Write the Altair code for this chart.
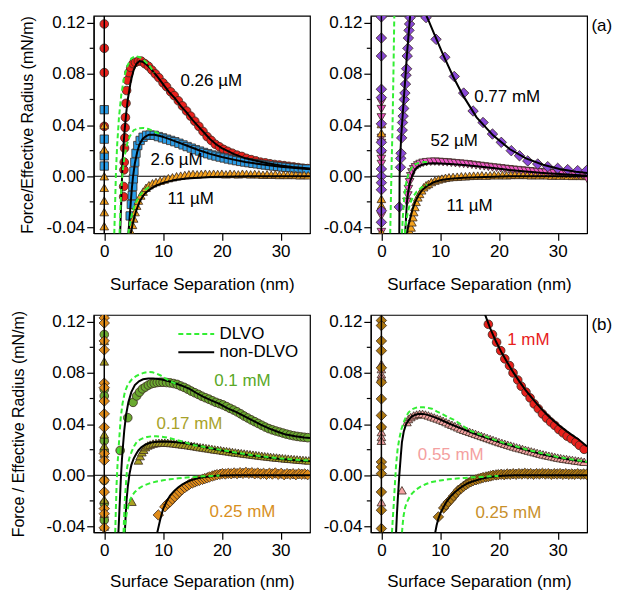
import altair as alt
import pandas as pd

# ---------------- Panel 1 (top-left) ----------------
p1_red_wall = [0.119, 0.100, 0.081, 0.039]
p1_red_x = [3.3, 3.3, 3.35, 3.4, 3.45, 3.5, 3.55, 3.6, 3.7, 3.8, 3.95, 4.2, 4.5, 4.9, 5.3, 5.8, 6.3, 6.9, 7.5, 8.1, 8.7, 9.3, 10.0, 10.6, 11.3, 11.9, 12.6, 13.3, 14.0, 14.7, 15.4, 16.1, 16.8, 17.5, 18.2, 18.9, 19.6, 20.3, 21.0, 21.8, 22.6, 23.4, 24.2, 25.0, 25.8, 26.6, 27.4, 28.2, 29.0, 29.8, 30.6, 31.4, 32.2, 33.0, 33.8, 34.6]
p1_red_y = [-0.016, -0.008, 0.005, 0.011, 0.022, 0.030, 0.038, 0.046, 0.057, 0.067, 0.075, 0.081, 0.085, 0.088, 0.089, 0.090, 0.090, 0.088, 0.086, 0.083, 0.080, 0.077, 0.073, 0.070, 0.066, 0.063, 0.059, 0.055, 0.051, 0.047, 0.043, 0.039, 0.035, 0.031, 0.028, 0.025, 0.023, 0.021, 0.0195, 0.018, 0.0165, 0.0155, 0.014, 0.013, 0.012, 0.011, 0.0105, 0.0098, 0.0092, 0.0088, 0.0083, 0.0078, 0.0073, 0.0068, 0.0063, 0.006]
p1_red_fit_x = [2.7, 2.9, 3.1, 3.3, 3.5, 3.75, 4.0, 4.5, 5.0, 5.5, 6.0, 6.5, 7.0, 8.0, 9.0, 10, 11, 12, 13, 14, 15, 16, 17, 18, 19, 20, 22, 24, 26, 28, 30, 32, 35]
p1_red_fit_y = [-0.045, -0.018, 0.010, 0.026, 0.038, 0.050, 0.060, 0.074, 0.083, 0.088, 0.090, 0.0895, 0.088, 0.0835, 0.078, 0.072, 0.066, 0.061, 0.055, 0.050, 0.044, 0.039, 0.034, 0.029, 0.025, 0.022, 0.0175, 0.014, 0.012, 0.010, 0.0085, 0.0073, 0.006]
p1_red_dlvo_x = [1.7, 1.85, 2.0, 2.2, 2.5, 2.9, 3.4, 4.0, 4.6, 5.3, 6.0, 6.8, 7.6, 8.5]
p1_red_dlvo_y = [-0.045, -0.020, 0.005, 0.025, 0.046, 0.064, 0.078, 0.087, 0.092, 0.094, 0.093, 0.0905, 0.087, 0.081]

p1_blue_wall = [0.052, 0.029, 0.016, 0.008]
p1_blue_x = [4.4, 4.6, 4.75, 4.85, 4.95, 5.05, 5.2, 5.4, 5.7, 6.1, 6.6, 7.2, 7.8, 8.5, 9.2, 9.9, 10.6, 11.3, 12.0, 12.7, 13.4, 14.1, 14.8, 15.5, 16.2, 16.9, 17.6, 18.3, 19.0, 19.7, 20.4, 21.1, 21.8, 22.5, 23.2, 23.9, 24.6, 25.3, 26.0, 26.7, 27.4, 28.1, 28.8, 29.5, 30.2, 30.9, 31.6, 32.3, 33.0, 33.7, 34.4]
p1_blue_y = [-0.031, -0.022, -0.015, -0.008, -0.002, 0.004, 0.011, 0.018, 0.024, 0.028, 0.0305, 0.032, 0.0322, 0.032, 0.031, 0.030, 0.029, 0.028, 0.027, 0.0258, 0.0245, 0.0232, 0.0220, 0.0208, 0.0197, 0.0186, 0.0176, 0.0166, 0.0158, 0.0150, 0.0143, 0.0135, 0.0128, 0.0122, 0.0116, 0.0111, 0.0106, 0.0101, 0.0097, 0.0092, 0.0088, 0.0084, 0.0080, 0.0077, 0.0073, 0.0070, 0.0067, 0.0064, 0.0061, 0.0058, 0.0056]
p1_blue_fit_x = [4.1, 4.3, 4.5, 4.7, 4.9, 5.2, 5.6, 6.0, 6.5, 7.0, 7.6, 8.5, 9.5, 10.5, 12, 14, 16, 18, 20, 22, 24, 26, 28, 30, 32, 35]
p1_blue_fit_y = [-0.045, -0.033, -0.021, -0.009, 0.000, 0.010, 0.019, 0.025, 0.029, 0.031, 0.0325, 0.0325, 0.0315, 0.030, 0.0275, 0.024, 0.0205, 0.0175, 0.015, 0.013, 0.0112, 0.0098, 0.0086, 0.0075, 0.0066, 0.0055]
p1_blue_dlvo_x = [2.6, 2.75, 2.9, 3.1, 3.4, 3.8, 4.3, 5.0, 5.8, 6.6, 7.5, 8.5, 9.5]
p1_blue_dlvo_y = [-0.045, -0.025, -0.010, 0.002, 0.014, 0.024, 0.031, 0.036, 0.0375, 0.0378, 0.037, 0.035, 0.033]

p1_or_wall = [0.040, 0.021, 0.000, -0.009, -0.019, -0.028, -0.039]
p1_or_x = [4.6, 4.8, 5.0, 5.25, 5.5, 5.8, 6.2, 6.6, 7.1, 7.6, 8.2, 8.8, 9.5, 10.2, 10.9, 11.6, 12.3, 13.0, 13.7, 14.4, 15.1, 15.8, 16.5, 17.2, 17.9, 18.6, 19.3, 20.0, 20.7, 21.4, 22.1, 22.8, 23.5, 24.2, 24.9, 25.6, 26.3, 27.0, 27.7, 28.4, 29.1, 29.8, 30.5, 31.2, 31.9, 32.6, 33.3, 34.0, 34.7]
p1_or_y = [-0.044, -0.038, -0.033, -0.028, -0.023, -0.019, -0.015, -0.012, -0.009, -0.007, -0.0055, -0.0045, -0.0035, -0.0025, -0.0015, -0.0008, 0.0, 0.0005, 0.001, 0.0015, 0.0018, 0.0015, 0.0018, 0.002, 0.0018, 0.002, 0.0018, 0.002, 0.0015, 0.002, 0.0018, 0.0015, 0.002, 0.0018, 0.0015, 0.0018, 0.0015, 0.0012, 0.0015, 0.0012, 0.0015, 0.001, 0.0012, 0.001, 0.0012, 0.001, 0.0008, 0.001, 0.0008]
p1_or_fit_x = [4.5, 4.8, 5.1, 5.5, 6.0, 6.5, 7.0, 8.0, 9.0, 10, 11, 12, 14, 16, 18, 20, 25, 30, 35]
p1_or_fit_y = [-0.045, -0.038, -0.032, -0.026, -0.020, -0.016, -0.013, -0.0095, -0.0070, -0.0052, -0.0040, -0.0030, -0.0018, -0.0011, -0.0006, -0.0003, 0.0, 0.0, 0.0]
p1_or_dlvo_x = [4.1, 4.4, 4.8, 5.3, 6.0, 6.8, 7.6]
p1_or_dlvo_y = [-0.045, -0.036, -0.028, -0.021, -0.015, -0.011, -0.0085]

# ---------------- Panel 2 (top-right) ----------------
p2_pu_wall = [0.1245, 0.108, 0.094, 0.068, 0.0615, 0.041, 0.0265, 0.020, 0.0057, 0.0, -0.005, -0.0105, -0.027, -0.036]
p2_pu_jump_x = [3.05, 3.25, 3.3, 3.35, 3.45, 3.55, 3.6, 3.7, 3.8, 3.9, 4.0, 4.1, 4.2, 4.3, 4.4, 4.5, 4.6, 4.7, 4.8, 4.9]
p2_pu_jump_y = [-0.024, 0.007, 0.014, 0.018, 0.030, 0.036, 0.042, 0.047, 0.053, 0.060, 0.065, 0.072, 0.079, 0.084, 0.094, 0.100, 0.108, 0.114, 0.119, 0.124]
p2_pu_jfit_x = [3.05, 3.08, 3.1, 3.2, 3.4, 3.7, 4.0, 4.35, 4.65, 4.9]
p2_pu_jfit_y = [-0.045, -0.02, 0.0, 0.015, 0.033, 0.053, 0.072, 0.095, 0.112, 0.126]
p2_pu_x = [7.6, 9.3, 10.8, 12.4, 14.0, 15.6, 17.3, 18.9, 20.4, 22.1, 23.5, 24.9, 26.6, 28.3, 30.0, 31.7, 33.4, 34.9]
p2_pu_y = [0.124, 0.107, 0.093, 0.078, 0.065, 0.051, 0.042, 0.033, 0.0265, 0.020, 0.016, 0.012, 0.0096, 0.0075, 0.0062, 0.0052, 0.0044, 0.0044]
p2_pu_fit_x = [7.5, 8.0, 9.0, 10.5, 12.2, 13.9, 16.2, 19.0, 21.8, 24.6, 27.5, 30.3, 33.1, 35]
p2_pu_fit_y = [0.127, 0.122, 0.111, 0.095, 0.078, 0.063, 0.046, 0.032, 0.0213, 0.014, 0.009, 0.0057, 0.0036, 0.0026]
p2_pu_dlvo_x = [1.5, 1.7, 1.9, 2.05, 2.2]
p2_pu_dlvo_y = [-0.045, 0.0, 0.04, 0.08, 0.126]

p2_pk_wall = [0.0577, 0.0525, 0.046, 0.030, 0.026, 0.0174, 0.0135, 0.0096, -0.031, -0.0436]
p2_pk_x = [4.35, 4.5, 4.6, 4.8, 5.0, 5.2, 5.5, 5.8, 6.2, 6.6, 7.1, 7.7, 8.4, 9.1, 9.8, 10.5, 11.2, 11.9, 12.6, 13.3, 14.0, 14.7, 15.4, 16.1, 16.8, 17.5, 18.2, 18.9, 19.6, 20.3, 21.0, 21.7, 22.4, 23.1, 23.8, 24.5, 25.2, 25.9, 26.6, 27.3, 28.0, 28.7, 29.4, 30.1, 30.8, 31.5, 32.2, 32.9, 33.6, 34.3, 35.0]
p2_pk_y = [-0.020, -0.015, -0.010, -0.0047, 0.0, 0.003, 0.0055, 0.007, 0.0085, 0.0096, 0.0105, 0.011, 0.0113, 0.0114, 0.0112, 0.011, 0.0108, 0.0105, 0.0102, 0.0099, 0.0096, 0.0093, 0.0089, 0.0085, 0.0081, 0.0077, 0.0073, 0.0069, 0.0066, 0.0062, 0.0058, 0.0055, 0.0051, 0.0048, 0.0045, 0.0042, 0.0039, 0.0036, 0.0033, 0.0030, 0.0028, 0.0025, 0.0023, 0.0021, 0.0018, 0.0016, 0.0013, 0.0011, 0.0008, 0.0005, -0.002]
p2_pk_fit_x = [4.05, 4.2, 4.35, 4.6, 4.9, 5.3, 5.75, 6.3, 6.9, 8.0, 8.9, 10, 11.7, 14, 16.2, 19, 21.8, 24.6, 27.5, 30.3, 33, 35]
p2_pk_fit_y = [-0.045, -0.032, -0.020, -0.011, -0.004, 0.001, 0.0055, 0.0078, 0.009, 0.0099, 0.0101, 0.0100, 0.0096, 0.0088, 0.0078, 0.0064, 0.0049, 0.0037, 0.0026, 0.0017, 0.0009, 0.0005]
p2_pk_dlvo_x = [3.5, 3.65, 3.8, 4.0, 4.3, 4.7, 5.2, 5.8, 6.5, 7.3, 8.2]
p2_pk_dlvo_y = [-0.045, -0.032, -0.022, -0.012, -0.003, 0.003, 0.007, 0.0095, 0.0108, 0.0112, 0.011]

p2_or_wall = [0.0408, 0.0338, 0.0213, -0.0177, -0.0229, -0.0437]
p2_or_x = [4.9, 5.05, 5.2, 5.35, 5.5, 5.7, 5.9, 6.2, 6.5, 6.85, 7.2, 7.6, 8.0, 8.5, 9.1, 9.7, 10.3, 10.9, 11.5, 12.2, 12.9, 13.6, 14.3, 15.0, 15.7, 16.4, 17.1, 17.8, 18.5, 19.2, 19.9, 20.6, 21.3, 22.0, 22.7, 23.4, 24.1, 24.8, 25.5, 26.2, 26.9, 27.6, 28.3, 29.0, 29.7, 30.4, 31.1, 31.8, 32.5, 33.2, 33.9, 34.6]
p2_or_y = [-0.0437, -0.040, -0.036, -0.032, -0.028, -0.024, -0.020, -0.0165, -0.0138, -0.011, -0.0086, -0.007, -0.006, -0.0045, -0.0034, -0.0025, -0.0018, -0.0012, -0.0008, -0.0005, -0.0003, 0.0, 0.0, 0.0003, 0.0005, 0.0005, 0.0008, 0.0005, 0.0008, 0.001, 0.0008, 0.001, 0.0008, 0.001, 0.0012, 0.001, 0.0012, 0.001, 0.0008, 0.001, 0.0008, 0.001, 0.0008, 0.0005, 0.0008, 0.0005, 0.0008, 0.0005, 0.0003, 0.0005, 0.0003, 0.0003]
p2_or_fit_x = [4.35, 4.6, 4.9, 5.3, 5.75, 6.3, 6.9, 7.8, 8.9, 10.2, 11.7, 14, 16.2, 19, 21.8, 35]
p2_or_fit_y = [-0.045, -0.038, -0.033, -0.026, -0.020, -0.015, -0.011, -0.0075, -0.0047, -0.003, -0.002, -0.0012, -0.0008, -0.0003, 0.0, 0.0]
p2_or_dlvo_x = [4.0, 4.2, 4.5, 4.9, 5.4, 6.0, 6.8, 7.8]
p2_or_dlvo_y = [-0.045, -0.036, -0.028, -0.021, -0.016, -0.012, -0.0088, -0.0063]

# ---------------- Panel 3 (bottom-left) ----------------
p3_gr_wall = [0.110, 0.067, 0.062, 0.027, 0.019, -0.004, -0.022, -0.035]
p3_gr_x = [2.7, 4.0, 4.9, 5.5, 6.0, 6.5, 7.0, 7.5, 8.0, 8.5, 9.0, 9.5, 10.0, 10.6, 11.2, 11.8, 12.4, 13.0, 13.6, 14.2, 14.8, 15.4, 16.0, 16.6, 17.2, 17.8, 18.4, 19.0, 19.6, 20.2, 20.8, 21.4, 22.0, 22.6, 23.2, 23.8, 24.4, 25.0, 25.6, 26.2, 26.8, 27.4, 28.0, 28.6, 29.2, 29.8, 30.4, 31.0, 31.6, 32.2, 32.8, 33.4, 34.0, 34.6]
p3_gr_y = [0.0194, 0.045, 0.057, 0.062, 0.065, 0.0675, 0.069, 0.0705, 0.0715, 0.072, 0.0725, 0.0727, 0.0727, 0.0725, 0.0722, 0.0717, 0.071, 0.0698, 0.0687, 0.0673, 0.0658, 0.0645, 0.0632, 0.0618, 0.0606, 0.0595, 0.0582, 0.057, 0.056, 0.055, 0.0537, 0.0523, 0.051, 0.0496, 0.048, 0.0463, 0.0448, 0.0433, 0.0419, 0.0405, 0.0391, 0.0377, 0.0365, 0.0355, 0.0346, 0.0338, 0.033, 0.0322, 0.0315, 0.0309, 0.0304, 0.030, 0.0297, 0.0294]
p3_gr_fit_x = [2.4, 2.55, 2.7, 2.85, 3.0, 3.2, 3.4, 3.7, 4.1, 4.6, 5.2, 5.9, 6.6, 7.5, 8.3, 9.2, 10, 11, 12.3, 13.5, 14.5, 15.6, 16.8, 18.2, 19.6, 21, 22.4, 23.8, 25.2, 26.6, 28.1, 29.5, 30.9, 32.5, 34, 35]
p3_gr_fit_y = [-0.045, -0.030, -0.015, 0.0, 0.012, 0.024, 0.035, 0.047, 0.057, 0.065, 0.0705, 0.0735, 0.075, 0.0757, 0.0756, 0.0752, 0.0747, 0.0735, 0.0715, 0.0695, 0.0675, 0.0645, 0.0615, 0.0585, 0.0558, 0.0523, 0.0496, 0.0463, 0.043, 0.0396, 0.0365, 0.034, 0.0318, 0.0305, 0.0296, 0.0292]
p3_gr_dlvo_x = [1.86, 1.95, 2.1, 2.25, 2.4, 2.6, 2.8, 3.1, 3.5, 4.0, 4.7, 5.4, 6.1, 6.8, 7.5, 8.2, 8.9, 9.6, 10.3, 11.0, 11.7, 12.5]
p3_gr_dlvo_y = [-0.045, -0.030, -0.0065, 0.008, 0.019, 0.032, 0.045, 0.056, 0.065, 0.071, 0.075, 0.0775, 0.079, 0.0802, 0.0807, 0.0805, 0.0794, 0.078, 0.076, 0.074, 0.0724, 0.0712]

p3_ol_wall = [0.089, 0.105, 0.032, 0.023, 0.017, -0.019, -0.030, -0.040]
p3_ol_x = [4.7, 5.8, 6.1, 6.4, 6.7, 7.0, 7.4, 7.8, 8.3, 8.8, 9.3, 9.8, 10.3, 10.8, 11.3, 11.8, 12.3, 12.8, 13.3, 13.8, 14.3, 14.8, 15.3, 15.8, 16.3, 16.8, 17.3, 17.8, 18.3, 18.8, 19.3, 19.8, 20.3, 20.8, 21.3, 21.8, 22.3, 22.8, 23.3, 23.8, 24.3, 24.8, 25.3, 25.8, 26.3, 26.8, 27.3, 27.8, 28.3, 28.8, 29.3, 29.8, 30.3, 30.8, 31.3, 31.8, 32.3, 32.8, 33.3, 33.8, 34.3, 34.8]
p3_ol_y = [-0.0207, 0.0116, 0.015, 0.018, 0.020, 0.022, 0.0233, 0.024, 0.0248, 0.0252, 0.0254, 0.0255, 0.0255, 0.0254, 0.0252, 0.025, 0.0247, 0.0244, 0.0241, 0.0238, 0.0235, 0.0231, 0.0228, 0.0224, 0.022, 0.0217, 0.0213, 0.021, 0.0206, 0.0202, 0.0199, 0.0196, 0.0192, 0.0189, 0.0186, 0.0182, 0.0179, 0.0176, 0.0173, 0.017, 0.0167, 0.0164, 0.0161, 0.0158, 0.0155, 0.0152, 0.0149, 0.0147, 0.0144, 0.0141, 0.0139, 0.0137, 0.0134, 0.0132, 0.013, 0.0128, 0.0126, 0.0124, 0.0122, 0.012, 0.0118, 0.0116]
p3_ol_fit_x = [3.5, 3.65, 3.8, 4.0, 4.3, 4.6, 5.0, 5.4, 5.8, 6.3, 6.9, 7.6, 8.3, 9.2, 10, 11, 12.3, 13.5, 14.5, 15.6, 16.8, 18.4, 20, 22.5, 25, 27.5, 30, 32.5, 35]
p3_ol_fit_y = [-0.045, -0.030, -0.019, -0.009, 0.0013, 0.008, 0.013, 0.0165, 0.0194, 0.022, 0.0238, 0.025, 0.0259, 0.0263, 0.0264, 0.0262, 0.0258, 0.0252, 0.0245, 0.0236, 0.0222, 0.0207, 0.0193, 0.0173, 0.0155, 0.014, 0.0128, 0.0118, 0.011]
p3_ol_dlvo_x = [3.27, 3.4, 3.5, 3.7, 3.9, 4.3, 4.7, 5.1, 5.5, 6.0, 6.6, 7.3, 8.1, 8.8, 9.5, 10.3, 11.2, 12.0, 12.8, 13.6, 15.0, 17.5, 20.0, 22.5, 25.0, 27.5, 30.0, 32.5, 35.0]
p3_ol_dlvo_y = [-0.045, -0.030, -0.019, -0.006, 0.0065, 0.014, 0.019, 0.023, 0.026, 0.0277, 0.029, 0.030, 0.0305, 0.0305, 0.0303, 0.0298, 0.029, 0.028, 0.027, 0.026, 0.0238, 0.0217, 0.0197, 0.0177, 0.0159, 0.0144, 0.0132, 0.0122, 0.0114]

p3_od_wall = [0.123, 0.119, 0.105, 0.098, 0.072, 0.0685, 0.058, 0.048, 0.0375, 0.017, 0.0116, -0.0039, -0.013, -0.026, -0.030, -0.041]
p3_od_x = [9.2, 10.3, 10.8, 11.2, 11.6, 12.0, 12.4, 12.8, 13.2, 13.7, 14.1, 14.5, 15.0, 15.4, 15.8, 16.2, 16.7, 17.1, 17.5, 17.9, 18.4, 18.8, 19.2, 19.7, 20.1, 20.6, 21.1, 21.6, 22.1, 22.6, 23.1, 23.6, 24.1, 24.6, 25.1, 25.6, 26.1, 26.6, 27.1, 27.6, 28.1, 28.6, 29.1, 29.6, 30.1, 30.6, 31.1, 31.6, 32.1, 32.6, 33.1, 33.6, 34.1, 34.6]
p3_od_y = [-0.031, -0.0246, -0.022, -0.0207, -0.0185, -0.0168, -0.0148, -0.0129, -0.0112, -0.0096, -0.0083, -0.007, -0.006, -0.0052, -0.0045, -0.0039, -0.0032, -0.0026, -0.002, -0.0013, -0.0006, 0.0, 0.0005, 0.0008, 0.0013, 0.0010, 0.0015, 0.0012, 0.0018, 0.0013, 0.0020, 0.0015, 0.0022, 0.0015, 0.0020, 0.0012, 0.0018, 0.0010, 0.0015, 0.0008, 0.0016, 0.0010, 0.0018, 0.0008, 0.0015, 0.0005, 0.0013, 0.0008, 0.0012, 0.0005, 0.0012, 0.0008, 0.0010, 0.0005]
p3_od_fit_x = [9.0, 9.5, 10, 10.6, 11.2, 11.9, 12.6, 13.3, 14.0, 14.8, 15.7, 16.8, 17.9, 19.0, 20.2, 22, 35]
p3_od_fit_y = [-0.045, -0.035, -0.0265, -0.0205, -0.0158, -0.0122, -0.0093, -0.007, -0.0053, -0.0038, -0.0026, -0.0016, -0.0009, -0.0004, -0.0001, 0.0, 0.0]
p3_od_dlvo_x = [3.4, 3.6, 3.8, 4.1, 4.4, 4.8, 5.2, 5.9, 6.6, 7.7, 8.9, 10.0, 11.2, 12.6, 14.0, 15.4, 16.8, 18.2, 19.6]
p3_od_dlvo_y = [-0.045, -0.037, -0.030, -0.024, -0.019, -0.0155, -0.013, -0.0102, -0.0082, -0.0063, -0.0048, -0.0039, -0.0031, -0.0024, -0.0018, -0.0013, -0.0008, -0.0005, -0.0002]

# ---------------- Panel 4 (bottom-right) ----------------
p4_rd_x = [18.2, 18.9, 19.6, 20.3, 21.0, 21.8, 22.4, 23.2, 23.8, 24.6, 25.3, 26.0, 26.7, 27.4, 28.1, 28.8, 29.5, 30.2, 30.9, 31.6, 32.3, 33.1, 33.7, 34.5]
p4_rd_y = [0.118, 0.110, 0.104, 0.0974, 0.091, 0.0857, 0.080, 0.0745, 0.0696, 0.065, 0.0605, 0.0558, 0.052, 0.048, 0.0447, 0.0416, 0.039, 0.0358, 0.0332, 0.0306, 0.0286, 0.026, 0.0234, 0.0203]
p4_rd_fit_x = [17.6, 18.5, 19.5, 20.5, 21.5, 22.5, 23.5, 24.5, 25.5, 26.5, 27.5, 28.5, 29.5, 30.5, 31.5, 32.5, 33.5, 35]
p4_rd_fit_y = [0.126, 0.115, 0.1045, 0.0955, 0.0875, 0.080, 0.0732, 0.0668, 0.061, 0.0556, 0.0505, 0.046, 0.0418, 0.038, 0.0345, 0.0312, 0.0282, 0.0225]

p4_sa_wall = [0.087, 0.083, 0.079, 0.0766, 0.039, 0.0338, 0.030, 0.027, -0.021]
p4_sa_x = [3.5, 4.35, 4.6, 5.0, 5.5, 6.0, 6.5, 7.0, 7.5, 8.0, 8.5, 9.0, 9.5, 10.0, 10.5, 11.0, 11.5, 12.0, 12.5, 13.0, 13.5, 14.0, 14.5, 15.0, 15.5, 16.0, 16.5, 17.0, 17.5, 18.0, 18.5, 19.0, 19.5, 20.0, 20.5, 21.0, 21.5, 22.0, 22.5, 23.0, 23.5, 24.0, 24.5, 25.0, 25.5, 26.0, 26.5, 27.0, 27.5, 28.0, 28.5, 29.0, 29.5, 30.0, 30.5, 31.0, 31.5, 32.0, 32.5, 33.0, 33.5, 34.0, 34.5]
p4_sa_y = [-0.0117, 0.0416, 0.044, 0.0455, 0.0468, 0.0475, 0.048, 0.048, 0.0475, 0.0468, 0.046, 0.0452, 0.0444, 0.0436, 0.0426, 0.0416, 0.0405, 0.0395, 0.0385, 0.0375, 0.0365, 0.0356, 0.0348, 0.034, 0.0332, 0.0324, 0.0316, 0.0308, 0.030, 0.0292, 0.0284, 0.0276, 0.0268, 0.026, 0.0253, 0.0246, 0.0239, 0.0232, 0.0225, 0.0218, 0.0212, 0.0206, 0.0199, 0.0193, 0.0187, 0.0181, 0.0175, 0.0169, 0.0163, 0.0158, 0.0153, 0.0148, 0.0143, 0.0138, 0.0134, 0.013, 0.0127, 0.0123, 0.012, 0.0116, 0.0113, 0.011, 0.0106]
p4_sa_fit_x = [2.5, 2.65, 2.8, 3.05, 3.3, 3.5, 3.8, 4.2, 4.7, 5.2, 5.9, 6.6, 7.3, 8, 9, 10, 11.5, 13.1, 14.5, 15.9, 17.5, 20, 22.5, 25, 27.5, 30, 32.5, 35]
p4_sa_fit_y = [-0.045, -0.030, -0.018, 0.0, 0.015, 0.026, 0.034, 0.040, 0.0435, 0.046, 0.0475, 0.048, 0.0478, 0.047, 0.0455, 0.0436, 0.0405, 0.0375, 0.035, 0.0325, 0.0298, 0.026, 0.0225, 0.0193, 0.0163, 0.0138, 0.012, 0.0103]
p4_sa_dlvo_x = [1.8, 1.95, 2.1, 2.3, 2.5, 2.75, 3.05, 3.4, 3.8, 4.2, 4.6, 5.2, 5.8, 6.5, 7.2, 7.9, 8.6, 9.4, 10.3, 11.2, 12.5, 15.0, 20.0, 25.0, 30.0, 35.0]
p4_sa_dlvo_y = [-0.045, -0.033, -0.023, -0.007, 0.0078, 0.020, 0.0286, 0.036, 0.0416, 0.0458, 0.049, 0.0515, 0.0527, 0.0532, 0.0532, 0.0527, 0.052, 0.050, 0.048, 0.0458, 0.043, 0.035, 0.0265, 0.0198, 0.0143, 0.0105]

p4_br_wall = [0.121, 0.117, 0.105, 0.0974, 0.084, 0.0727, 0.0597, 0.0468, 0.0377, 0.0104, 0.0065, 0.0013, -0.013, -0.0273, -0.0416]
p4_br_x = [9.7, 10.6, 11.0, 11.4, 11.9, 12.3, 12.7, 13.1, 13.6, 14.0, 14.4, 14.8, 15.2, 15.6, 16.1, 16.5, 16.9, 17.3, 17.8, 18.2, 18.6, 19.0, 19.5, 19.9, 20.4, 20.9, 21.4, 21.9, 22.4, 22.9, 23.4, 23.9, 24.4, 24.9, 25.4, 25.9, 26.4, 26.9, 27.4, 27.9, 28.4, 28.9, 29.4, 29.9, 30.4, 30.9, 31.4, 31.9, 32.4, 32.9, 33.4, 33.9, 34.4, 34.9]
p4_br_y = [-0.0325, -0.0255, -0.023, -0.0208, -0.0185, -0.0161, -0.014, -0.0117, -0.0101, -0.0086, -0.0073, -0.006, -0.0051, -0.0042, -0.0035, -0.0029, -0.0023, -0.0018, -0.0013, -0.001, -0.0005, 0.0, 0.0003, 0.0005, 0.0008, 0.0005, 0.001, 0.0008, 0.0012, 0.0008, 0.0013, 0.001, 0.0015, 0.001, 0.0013, 0.0008, 0.0013, 0.001, 0.0015, 0.001, 0.0013, 0.0008, 0.0012, 0.001, 0.0013, 0.0008, 0.0012, 0.0008, 0.001, 0.0008, 0.0012, 0.0008, 0.001, 0.0008]
p4_br_fit_x = [9.15, 9.4, 9.7, 10.1, 10.6, 11.1, 11.7, 12.4, 13.1, 13.9, 14.8, 15.9, 17.1, 18.5, 19.9, 21.3, 22.7, 35]
p4_br_fit_y = [-0.045, -0.039, -0.0338, -0.029, -0.0247, -0.0205, -0.0169, -0.0136, -0.0109, -0.0083, -0.006, -0.0042, -0.0026, -0.0014, -0.0005, -0.0002, 0.0, 0.0]
p4_br_dlvo_x = [3.5, 3.65, 3.8, 4.05, 4.35, 4.75, 5.2, 5.9, 6.6, 7.6, 8.6, 10.0, 11.4, 12.8, 14.2, 15.6, 17.1, 18.5, 19.9]
p4_br_dlvo_y = [-0.045, -0.037, -0.031, -0.025, -0.021, -0.0173, -0.0143, -0.0112, -0.009, -0.0068, -0.0052, -0.004, -0.0031, -0.0025, -0.0021, -0.0016, -0.0013, -0.0008, -0.0005]

# ---------------- labels ----------------
p1_labels = ["0.26 \u00b5M", "2.6 \u00b5M", "11 \u00b5M"]
p1_lab_x = [18.2, 12.3, 14.7]
p1_lab_y = [0.0747, 0.0124, -0.018]
p2_labels = ["0.77 mM", "52 \u00b5M", "11 \u00b5M", "(a)"]
p2_lab_x = [21.4, 12.4, 15.0, 37.5]
p2_lab_y = [0.0622, 0.0272, -0.0234, 0.1175]
p3_labels = ["0.1 mM", "0.17 mM", "0.25 mM"]
p3_lab_x = [23.5, 14.5, 23.5]
p3_lab_y = [0.0739, 0.0404, -0.0289]
p3_lab_col = ["#5aa828", "#a8a22a", "#d8901e"]
p4_labels = ["1 mM", "0.55 mM", "0.25 mM", "(b)"]
p4_lab_x = [25.0, 11.8, 21.6, 37.5]
p4_lab_y = [0.1058, 0.0155, -0.0291, 0.1175]
p4_lab_col = ["#e8201c", "#f4a0a0", "#c8902a", "black"]
legend_labels = ["DLVO", "non-DLVO"]
legend_y = [0.1105, 0.0961]
legend_x = [12.6, 18.7, 19.6]

y_ticks = [-0.04, 0.0, 0.04, 0.08, 0.12]
y_minor = [-0.02, 0.02, 0.06, 0.10]
x_ticks = [0, 10, 20, 30]

XDOM = [-1.8, 35]
YDOM = [-0.0445, 0.1253]
W, H = 217, 218
FONT = "Liberation Sans"
FS = 17
DLVO_C = "#33ee33"
EDGE = "#3a2a20"

def df(xs, ys):
    return pd.DataFrame({"x": xs, "y": ys})

def wall(ys):
    return df([0.0] * len(ys), ys)

def make_panel(ytitle, ytp, xtp, points, fits, dlvos, texts):
    X = alt.X("x:Q", scale=alt.Scale(domain=XDOM, nice=False, zero=False),
              axis=alt.Axis(values=x_ticks, title="Surface Separation (nm)", titlePadding=xtp,
                            labelPadding=3, tickSize=7))
    yaxis = dict(values=y_ticks, tickSize=7, labelPadding=2,
                 labelExpr="datum.value < 0 ? '-' + format(-datum.value, '.2f') : format(datum.value, '.2f')")
    if ytitle:
        Y = alt.Y("y:Q", scale=alt.Scale(domain=YDOM, nice=False, zero=False),
                  axis=alt.Axis(title=ytitle, titlePadding=ytp, **yaxis))
    else:
        Y = alt.Y("y:Q", scale=alt.Scale(domain=YDOM, nice=False, zero=False),
                  axis=alt.Axis(title=None, **yaxis))
    layers = []
    layers.append(alt.Chart(df([0.0], [0.0])).mark_rule(color="black", strokeWidth=1).encode(y=Y))
    layers.append(alt.Chart(pd.DataFrame({"y": y_minor})).mark_rule(color="black", strokeWidth=1.2, clip=False)
                  .encode(x=alt.value(0), x2=alt.value(-4), y=Y))
    for d, shape, fill, size in points:
        layers.append(alt.Chart(d).mark_point(shape=shape, filled=True, fill=fill, stroke=EDGE,
                                              strokeWidth=0.8, size=size, opacity=1, clip=True)
                      .encode(x=X, y=Y))
    layers.append(alt.Chart(df([0.0], [0.0])).mark_rule(color="black", strokeWidth=1.5).encode(x=X))
    for d in fits:
        layers.append(alt.Chart(d).mark_line(color="black", strokeWidth=2, clip=True).encode(x=X, y=Y))
    for d in dlvos:
        layers.append(alt.Chart(d).mark_line(color=DLVO_C, strokeWidth=2, strokeDash=[5, 3], clip=True)
                      .encode(x=X, y=Y))
    for t in texts:
        layers.append(t(X, Y))
    return alt.layer(*layers).properties(width=W, height=H)

def text_layer(labels, xs, ys, colors):
    def f(X, Y):
        d = pd.DataFrame({"x": xs, "y": ys, "t": labels, "c": colors})
        return alt.Chart(d).mark_text(font=FONT, fontSize=FS, align="center", baseline="middle").encode(
            x=X, y=Y, text="t:N", color=alt.Color("c:N", scale=None))
    return f

p1 = make_panel("Force/Effective Radius (mN/m)", 11, 17,
    [(wall(p1_red_wall), "circle", "#e8201c", 75), (df(p1_red_x, p1_red_y), "circle", "#e8201c", 75),
     (wall(p1_blue_wall), "square", "#2a9de8", 70), (df(p1_blue_x, p1_blue_y), "square", "#2a9de8", 70),
     (wall(p1_or_wall), "triangle-up", "#f5a21c", 75), (df(p1_or_x, p1_or_y), "triangle-up", "#f5a21c", 75)],
    [df(p1_red_fit_x, p1_red_fit_y), df(p1_blue_fit_x, p1_blue_fit_y), df(p1_or_fit_x, p1_or_fit_y)],
    [df(p1_red_dlvo_x, p1_red_dlvo_y), df(p1_blue_dlvo_x, p1_blue_dlvo_y), df(p1_or_dlvo_x, p1_or_dlvo_y)],
    [text_layer(p1_labels, p1_lab_x, p1_lab_y, ["black"] * 3)])

p2 = make_panel(None, 0, 17,
    [(wall(p2_pk_wall), "triangle-down", "#f058c8", 75), (wall(p2_or_wall), "triangle-up", "#f5a21c", 75),
     (wall(p2_pu_wall), "diamond", "#8a4ad8", 110),
     (df(p2_or_x, p2_or_y), "triangle-up", "#f5a21c", 75), (df(p2_pk_x, p2_pk_y), "triangle-down", "#f058c8", 75),
     (df(p2_pu_jump_x, p2_pu_jump_y), "diamond", "#8a4ad8", 110), (df(p2_pu_x, p2_pu_y), "diamond", "#8a4ad8", 110)],
    [df(p2_pu_jfit_x, p2_pu_jfit_y), df(p2_pu_fit_x, p2_pu_fit_y), df(p2_pk_fit_x, p2_pk_fit_y), df(p2_or_fit_x, p2_or_fit_y)],
    [df(p2_pu_dlvo_x, p2_pu_dlvo_y), df(p2_pk_dlvo_x, p2_pk_dlvo_y), df(p2_or_dlvo_x, p2_or_dlvo_y)],
    [text_layer(p2_labels, p2_lab_x, p2_lab_y, ["black"] * 4)])

def legend_layer(X, Y):
    return alt.layer(
        alt.Chart(pd.DataFrame({"x": [legend_x[0]], "x2": [legend_x[1]], "y": [legend_y[0]]}))
        .mark_rule(color=DLVO_C, strokeWidth=2, strokeDash=[5, 3]).encode(x=X, x2="x2:Q", y=Y),
        alt.Chart(pd.DataFrame({"x": [legend_x[0]], "x2": [legend_x[1]], "y": [legend_y[1]]}))
        .mark_rule(color="black", strokeWidth=2).encode(x=X, x2="x2:Q", y=Y),
        alt.Chart(pd.DataFrame({"x": [legend_x[2]] * 2, "y": legend_y, "t": legend_labels}))
        .mark_text(font=FONT, fontSize=FS, align="left", baseline="middle", color="black").encode(x=X, y=Y, text="t:N"),
    )

p3 = make_panel("Force / Effective Radius (mN/m)", 20, 15,
    [(wall(p3_gr_wall), "circle", "#6aaa30", 75), (wall(p3_ol_wall), "triangle-up", "#a8a020", 75),
     (wall(p3_od_wall), "diamond", "#e08c1a", 110),
     (df(p3_gr_x, p3_gr_y), "circle", "#6aaa30", 75), (df(p3_ol_x, p3_ol_y), "triangle-up", "#a8a020", 75),
     (df(p3_od_x, p3_od_y), "diamond", "#e08c1a", 110)],
    [df(p3_gr_fit_x, p3_gr_fit_y), df(p3_ol_fit_x, p3_ol_fit_y), df(p3_od_fit_x, p3_od_fit_y)],
    [df(p3_gr_dlvo_x, p3_gr_dlvo_y), df(p3_ol_dlvo_x, p3_ol_dlvo_y), df(p3_od_dlvo_x, p3_od_dlvo_y)],
    [text_layer(p3_labels, p3_lab_x, p3_lab_y, p3_lab_col), legend_layer])

p4 = make_panel(None, 0, 15,
    [(wall(p4_sa_wall), "triangle-up", "#f4a3a3", 75), (wall(p4_br_wall), "diamond", "#b07a12", 110),
     (df(p4_rd_x, p4_rd_y), "circle", "#e8201c", 75), (df(p4_sa_x, p4_sa_y), "triangle-up", "#f4a3a3", 75),
     (df(p4_br_x, p4_br_y), "diamond", "#b07a12", 110)],
    [df(p4_rd_fit_x, p4_rd_fit_y), df(p4_sa_fit_x, p4_sa_fit_y), df(p4_br_fit_x, p4_br_fit_y)],
    [df(p4_sa_dlvo_x, p4_sa_dlvo_y), df(p4_br_dlvo_x, p4_br_dlvo_y)],
    [text_layer(p4_labels, p4_lab_x, p4_lab_y, p4_lab_col)])

chart = alt.concat(p1, p2, p3, p4, columns=2, spacing={"row": 82, "column": 61}, bounds="flush").properties(
    padding={"left": 9, "top": 12, "right": 5, "bottom": 5}, background="white"
).configure_view(stroke="black", strokeWidth=1.2).configure_axis(
    labelFont=FONT, titleFont=FONT, labelFontSize=FS, titleFontWeight="normal",
    labelColor="black", titleColor="black", domainColor="black", tickColor="black", grid=False,
    domainWidth=1.2, tickWidth=1.2
).configure_axisX(titleFontSize=17).configure_axisY(titleFontSize=16)

chart.save("out.html", embed_options={"renderer": "svg", "actions": False})
